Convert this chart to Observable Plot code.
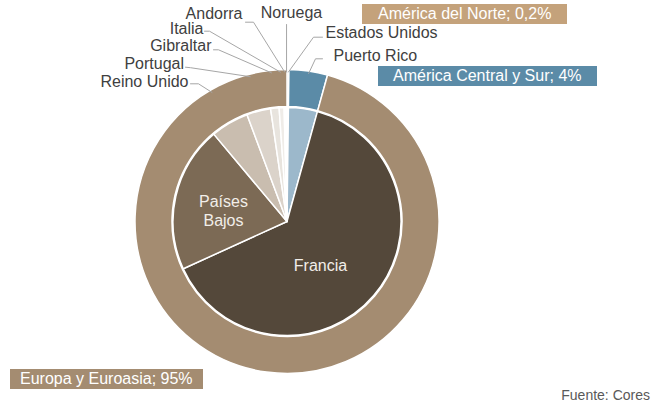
<!DOCTYPE html>
<html>
<head>
<meta charset="utf-8">
<script src="https://cdn.jsdelivr.net/npm/d3@7"></script>
<script src="https://cdn.jsdelivr.net/npm/@observablehq/plot@0.6"></script>
<style>
  html, body { margin: 0; padding: 0; background: #fff; }
  #wrap { position: relative; width: 662px; height: 408px; overflow: hidden; font-family: "Liberation Sans", Arial, sans-serif; }
  #wrap svg { position: absolute; left: 0; top: 0; }
  .box { position: absolute; color: #fff; font-size: 16px; line-height: 20px; height: 20px; white-space: nowrap; box-sizing: border-box; }
  .src { position: absolute; right: 12px; top: 387px; font-size: 14px; color: #595959; }
</style>
</head>
<body>
<div id="wrap"></div>
<script>
// ---- data ----
const innerNames  = ["Estados Unidos", "Puerto Rico", "Francia", "Países Bajos", "Reino Unido", "Portugal", "Gibraltar", "Italia", "Andorra", "Noruega"];
const innerValues = [0.2, 4.1, 63.9, 20.7, 5.4, 3.4, 1.2, 0.7, 0.2, 0.2];
const innerColors = ["#cddbe5", "#9cb8cb", "#54483a", "#7c6a55", "#c9bdaf", "#dbd3ca", "#e8e4de", "#efece8", "#f4f2ef", "#f8f7f5"];

const outerNames  = ["América del Norte", "América Central y Sur", "Europa y Euroasia"];
const outerValues = [0.2, 4.1, 95.7];
const outerColors = ["#c4a27b", "#5b8ba7", "#a48c71"];
const outerLabels = ["América del Norte; 0,2%", "América Central y Sur; 4%", "Europa y Euroasia; 95%"];

const sourceText = "Fuente: Cores";

// ---- layout (page pixels) ----
const W = 662, H = 408;
const CX = 287, CY = 221.5;
const R_PIE = 114, R_RING_IN = 115, R_RING_OUT = 152, R_LEADER = 150;

// outside labels: text position, anchor, leader start/elbow
const leaderLayout = {
  "Noruega":        {tx: 291, ty: 12.6, anchor: "middle", pts: [[null, 24]]},
  "Andorra":        {tx: 242, ty: 13.2, anchor: "end",    pts: [[245, 21.7], [253, 21.7]]},
  "Italia":         {tx: 203, ty: 28.2, anchor: "end",    pts: [[204, 30.7], [209, 30.7]]},
  "Gibraltar":      {tx: 211, ty: 45,   anchor: "end",    pts: [[213, 49.3], [218, 49.3]]},
  "Portugal":       {tx: 183.5, ty: 63.2, anchor: "end",  pts: [[185, 66.7], [190, 67.2]]},
  "Reino Unido":    {tx: 188, ty: 81,   anchor: "end",    pts: [[190, 83.3], [198, 83.3]]},
  "Estados Unidos": {tx: 325, ty: 32.6, anchor: "start",  pts: [[322, 36.7], [313, 36.7]]},
  "Puerto Rico":    {tx: 333, ty: 55.6, anchor: "start",  pts: [[322, 58.3], [315, 58.3]]}
};
const insideLayout = {
  "Francia":      {tx: 320, ty: 264, text: "Francia"},
  "Países Bajos": {tx: 223, ty: 210, text: "Países\nBajos"}
};
const boxLayout = [
  {left: 362, top: 4,   width: 205, pad: 16},
  {left: 378, top: 66,  width: 219, pad: 15},
  {left: 10,  top: 369, width: 193, pad: 10}
];

// ---- derived ----
const inner = innerNames.map((name, i) => ({name, value: innerValues[i], color: innerColors[i]}));
const outer = outerNames.map((name, i) => ({name, value: outerValues[i], color: outerColors[i]}));
const pie = d3.pie().sort(null).value(d => d.value);
const innerArcs = pie(inner);
const outerArcs = pie(outer);
const midAngle = new Map(innerArcs.map(a => [a.data.name, (a.startAngle + a.endAngle) / 2]));

// data coordinates = pixel offsets from pie centre
const toX = px => px - CX, toY = py => py - CY;

const leaderRows = [];
const labelRows = [];
for (const [name, L] of Object.entries(leaderLayout)) {
  const a = midAngle.get(name);
  const ex = R_LEADER * Math.sin(a), ey = -R_LEADER * Math.cos(a);
  L.pts.forEach(([px, py], k) => leaderRows.push({name, k, x: px === null ? ex : toX(px), y: toY(py)}));
  leaderRows.push({name, k: 9, x: ex, y: ey});
  labelRows.push({name, x: toX(L.tx), y: toY(L.ty), anchor: L.anchor});
}
const insideRows = Object.entries(insideLayout).map(([name, L]) => ({name, x: toX(L.tx), y: toY(L.ty), text: L.text}));

function arcMark(arcs, r0, r1, strokeWidth) {
  return (index, scales) => {
    const cx = scales.x(0), cy = scales.y(0);
    const k = Math.abs(scales.x(1) - scales.x(0));
    const g = d3.create("svg:g").attr("transform", `translate(${cx},${cy})`);
    const arc = d3.arc().innerRadius(r0 * k).outerRadius(r1 * k);
    g.selectAll("path").data(arcs).join("path")
      .attr("d", arc)
      .attr("fill", d => d.data.color)
      .attr("stroke", "#fff")
      .attr("stroke-width", strokeWidth)
      .attr("stroke-linejoin", "round");
    return g.node();
  };
}

const chart = Plot.plot({
  width: W,
  height: H,
  margin: 0,
  style: {fontFamily: "'Liberation Sans', Arial, sans-serif", background: "transparent"},
  x: {domain: [-CX, W - CX], axis: null},
  y: {domain: [H - CY, -CY], axis: null},
  marks: [
    arcMark(outerArcs, R_RING_IN, R_RING_OUT, 1.5),
    arcMark(innerArcs, 0, R_PIE, 1.5),
    Plot.line(leaderRows, {x: "x", y: "y", z: "name", stroke: "#a6a6a6", strokeWidth: 1, curve: "linear"}),
    Plot.text(labelRows.filter(d => d.anchor === "end"), {x: "x", y: "y", text: "name", textAnchor: "end", fontSize: 16, fill: "#404040"}),
    Plot.text(labelRows.filter(d => d.anchor === "start"), {x: "x", y: "y", text: "name", textAnchor: "start", fontSize: 16, fill: "#404040"}),
    Plot.text(labelRows.filter(d => d.anchor === "middle"), {x: "x", y: "y", text: "name", textAnchor: "middle", fontSize: 16, fill: "#404040"}),
    Plot.text(insideRows, {x: "x", y: "y", text: "text", textAnchor: "middle", fontSize: 16, fill: "#f2eee9", lineHeight: 1.2})
  ]
});

const wrap = document.getElementById("wrap");
wrap.appendChild(chart);

outerLabels.forEach((label, i) => {
  const b = boxLayout[i];
  const div = document.createElement("div");
  div.className = "box";
  div.textContent = label;
  div.style.left = b.left + "px";
  div.style.top = b.top + "px";
  div.style.width = b.width + "px";
  div.style.paddingLeft = b.pad + "px";
  div.style.background = outerColors[i];
  wrap.appendChild(div);
});

const src = document.createElement("div");
src.className = "src";
src.textContent = sourceText;
wrap.appendChild(src);
</script>
</body>
</html>
